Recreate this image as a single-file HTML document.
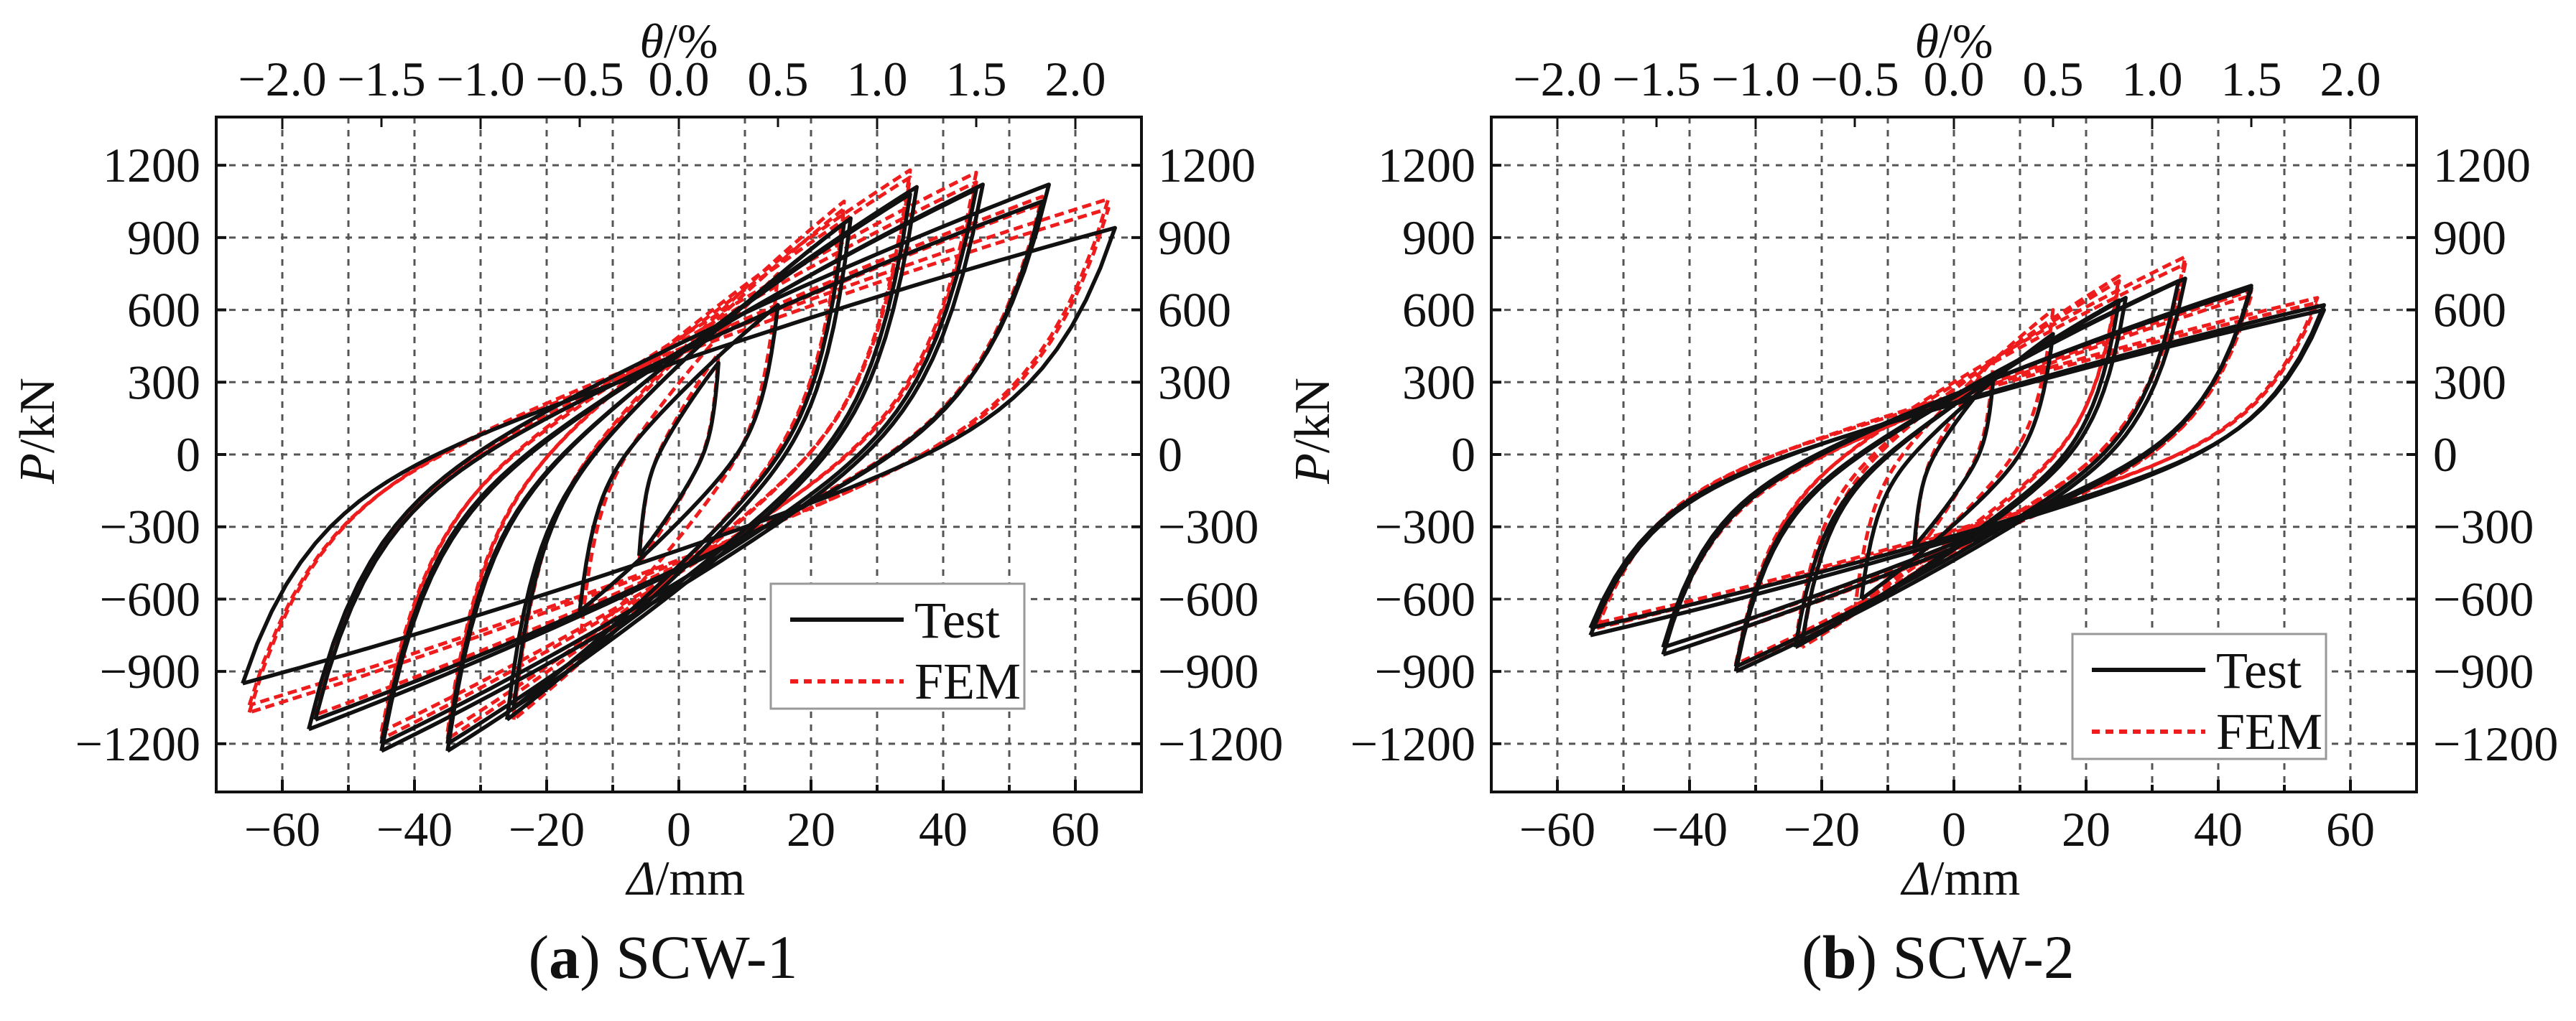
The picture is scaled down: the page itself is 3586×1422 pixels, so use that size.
<!DOCTYPE html>
<html><head><meta charset="utf-8"><style>
html,body{margin:0;padding:0;background:#fff;}
svg{display:block;}
text{font-family:"Liberation Serif",serif;fill:#111;}
</style></head><body>
<svg id="fig" width="3586" height="1422" viewBox="0 0 3586 1422" xmlns="http://www.w3.org/2000/svg">
<rect width="3586" height="1422" fill="#fff"/>
</svg>
<script>
// ---- data ----
const xTicks = [-60,-40,-20,0,20,40,60];
const yTicks = [-1200,-900,-600,-300,0,300,600,900,1200];
const thetaTicks = [-2.0,-1.5,-1.0,-0.5,0.0,0.5,1.0,1.5,2.0];

const testA_dPos = [6, 15, 25, 26, 35, 36, 45, 46, 55, 56, 66];
const testA_pPos = [380, 620, 960, 980, 1080, 1110, 1100, 1120, 1050, 1120, 940];
const testA_dNeg = [-6, -15, -25, -26, -35, -35, -45, -45, -55, -56, -66];
const testA_pNeg = [-420, -650, -1050, -1100, -1200, -1230, -1200, -1230, -1100, -1140, -950];

const femA_dPos = [6, 15, 25, 25, 35, 35, 45, 45, 55, 55, 65, 65];
const femA_pPos = [420, 750, 1050, 1020, 1180, 1150, 1170, 1130, 1070, 1040, 1060, 1020];
const femA_dNeg = [-6, -15, -25, -25, -35, -35, -45, -45, -55, -55, -65, -65];
const femA_pNeg = [-450, -800, -1100, -1080, -1180, -1150, -1180, -1150, -1100, -1080, -1070, -1040];

const testB_dPos = [6, 15, 25, 26, 34, 35, 45, 45, 56, 56];
const testB_pPos = [330, 500, 640, 650, 720, 730, 690, 700, 600, 620];
const testB_dNeg = [-6, -14, -23, -24, -33, -33, -44, -44, -55, -55];
const testB_pNeg = [-380, -600, -780, -800, -880, -900, -800, -830, -720, -750];

const femB_dPos = [6, 15, 25, 25, 35, 35, 45, 45, 55, 55];
const femB_pPos = [400, 600, 740, 720, 820, 790, 680, 660, 650, 630];
const femB_dNeg = [-6, -15, -23, -24, -33, -33, -44, -44, -54, -54];
const femB_pNeg = [-420, -650, -800, -780, -900, -870, -830, -800, -720, -700];

// ---- layout ----
const NS = "http://www.w3.org/2000/svg";
const svg = document.getElementById('fig');
const Y0 = 633, YS = 0.3357, XS = 9.2;
const FT = 163, FB = 1103;
function yS(p){ return Y0 - p*YS; }
function mk(tag, attrs, parent){ const e=document.createElementNS(NS,tag); for(const k in attrs) e.setAttribute(k,attrs[k]); (parent||svg).appendChild(e); return e; }
function fmt(v){ return (v<0?'\u2212':'')+Math.abs(v); }

function branchF(u){ const a=0.35; return a*(1-Math.exp(-u/0.07)) + (1-a)*(u+0.2*u*(1-u)); }

function drawChart(cx, key, caption, test, fem, legendX, legendY){
  const xS = d => cx + d*XS;
  const L = xS(-70), R = xS(70);
  const g = mk('g',{});
  
  
  for(let d=-60; d<=60; d+=10){
    const l = mk('line',{x1:xS(d),x2:xS(d),y1:FT,y2:FB,stroke:'#555','stroke-width':3,'stroke-dasharray':'9 9'},g);
    
    
  }
  yTicks.forEach(p=>{
    const l = mk('line',{x1:L,x2:R,y1:yS(p),y2:yS(p),stroke:'#555','stroke-width':3,'stroke-dasharray':'9 9'},g);
    
    
  });
  function drawSeries(s, color, dash, name, w){
    for(let i=0;i<s.dPos.length;i++){
      const dn=s.dNeg[i], pn=s.pNeg[i], dp=s.dPos[i], pp=s.pPos[i];
      let pts=[];
      const N=60;
      for(let k=0;k<=N;k++){ const u=k/N; const f=branchF(u); pts.push([dn+(dp-dn)*u, pn+(pp-pn)*f]); }
      for(let k=0;k<=N;k++){ const u=k/N; const f=branchF(u); pts.push([dp+(dn-dp)*u, pp+(pn-pp)*f]); }
      const dstr = pts.map((q,j)=>(j?'L':'M')+xS(q[0]).toFixed(1)+' '+yS(q[1]).toFixed(1)).join(' ');
      const path = mk('path',{d:dstr,fill:'none',stroke:color,'stroke-width':w,'stroke-dasharray':dash,'stroke-linejoin':'round'},g);
      
      
    }
  }
  drawSeries(fem,'#ee1c1c','13 7','fem',5);
  drawSeries(test,'#111','none','test',5.5);
  const fr = mk('rect',{x:L,y:FT,width:R-L,height:FB-FT,fill:'none',stroke:'#111','stroke-width':4},g);
  
  
  for(let d=-60; d<=60; d+=10){
    const len = (d%20===0)?17:10;
    mk('line',{x1:xS(d),x2:xS(d),y1:FB,y2:FB-len,stroke:'#111','stroke-width':4},g);
  }
  for(let t=-2; t<=2.01; t+=0.5){
    const len = (Math.abs(t%1)<0.01)?17:14;
    mk('line',{x1:xS(t*30),x2:xS(t*30),y1:FT,y2:FT+len,stroke:'#111','stroke-width':3},g);
  }
  yTicks.forEach(p=>{
    mk('line',{x1:L,x2:L+14,y1:yS(p),y2:yS(p),stroke:'#111','stroke-width':4},g);
    mk('line',{x1:R,x2:R-14,y1:yS(p),y2:yS(p),stroke:'#111','stroke-width':4},g);
  });
  xTicks.forEach(d=>{
    const t = mk('text',{x:xS(d),y:1178,'font-size':68,'text-anchor':'middle'},g);
    t.textContent = fmt(d);
    
    
  });
  thetaTicks.forEach(th=>{
    const t = mk('text',{x:xS(th*30),y:133,'font-size':68,'text-anchor':'middle'},g);
    t.textContent = (th<0?'\u2212':'')+Math.abs(th).toFixed(1);
    
    
  });
  yTicks.forEach(p=>{
    const t = mk('text',{x:L-22,y:yS(p)+23,'font-size':68,'text-anchor':'end'},g);
    t.textContent = fmt(p);
    
    
    const t2 = mk('text',{x:R+23,y:yS(p)+23,'font-size':68,'text-anchor':'start'},g);
    t2.textContent = fmt(p);
    
    
  });
  const tt = mk('text',{x:cx,y:80,'font-size':68,'text-anchor':'middle'},g);
  tt.innerHTML = '<tspan font-style="italic">θ</tspan>/%';
  
  
  const bt = mk('text',{x:cx+10,y:1246,'font-size':68,'text-anchor':'middle'},g);
  bt.innerHTML = '<tspan font-style="italic">Δ</tspan>/mm';
  
  
  const yx = L-226;
  const yt = mk('text',{x:yx,y:600,'font-size':70,'text-anchor':'middle',transform:'rotate(-90 '+yx+' 600)'},g);
  yt.innerHTML = '<tspan font-style="italic">P</tspan>/kN';
  
  
  const cap = mk('text',{x:cx-22,y:1362,'font-size':86,'text-anchor':'middle'},g);
  cap.innerHTML = '(<tspan font-weight="bold">'+key+'</tspan>) '+caption;
  
  
  const lg = mk('g',{},g);
  
  
  mk('rect',{x:legendX,y:legendY,width:353,height:174,fill:'#fff',stroke:'#999','stroke-width':3},lg);
  const l1 = mk('line',{x1:legendX+27,x2:legendX+185,y1:legendY+50,y2:legendY+50,stroke:'#111','stroke-width':6},lg);
  
  
  const l2 = mk('line',{x1:legendX+27,x2:legendX+185,y1:legendY+136,y2:legendY+136,stroke:'#ee1c1c','stroke-width':6,'stroke-dasharray':'11 8'},lg);
  
  
  const lt1 = mk('text',{x:legendX+200,y:legendY+75,'font-size':72},lg); lt1.textContent='Test';
  const lt2 = mk('text',{x:legendX+200,y:legendY+160,'font-size':72},lg); lt2.textContent='FEM';
}

drawChart(945,'a','SCW-1',
  {dPos:testA_dPos,pPos:testA_pPos,dNeg:testA_dNeg,pNeg:testA_pNeg},
  {dPos:femA_dPos,pPos:femA_pPos,dNeg:femA_dNeg,pNeg:femA_pNeg},1073,813);
drawChart(2720,'b','SCW-2',
  {dPos:testB_dPos,pPos:testB_pPos,dNeg:testB_dNeg,pNeg:testB_pNeg},
  {dPos:femB_dPos,pPos:femB_pPos,dNeg:femB_dNeg,pNeg:femB_pNeg},2885,883);
</script>
</body></html>
